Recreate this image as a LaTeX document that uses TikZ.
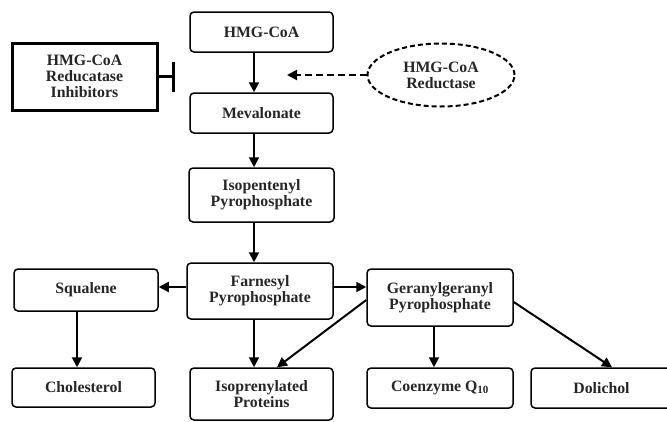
\documentclass[tikz,border=0pt]{standalone}
\usepackage{fontspec}
\setmainfont{Liberation Serif}
\usetikzlibrary{arrows.meta,shapes.geometric}
\begin{document}
\begin{tikzpicture}[x=1pt,y=-1pt,
  box/.style={draw, line width=1.5pt, rounded corners=4pt, inner sep=0pt, align=center,
    font=\fontsize{15.8}{16}\selectfont\bfseries, text=black!85},
  arr/.style={line width=2pt, -{Triangle[length=10pt,width=10pt]}},
]
\useasboundingbox (0,0) rectangle (667,421);
\node[box, minimum width=143, minimum height=40] (hmg) at (261.5,32) {HMG-CoA};
\node[box, minimum width=143, minimum height=40] (mev) at (261.5,113) {Mevalonate};
\node[box, minimum width=145, minimum height=54] (ipp) at (261.5,195) {Isopentenyl\\Pyrophosphate};
\node[box, minimum width=146, minimum height=56] (fpp) at (260,291) {Farnesyl\\Pyrophosphate};
\node[box, minimum width=144, minimum height=42] (sq) at (86,290) {Squalene};
\node[box, minimum width=143, minimum height=39] (chol) at (83.5,387.5) {Cholesterol};
\node[box, minimum width=143, minimum height=52] (ipr) at (261.5,394) {Isoprenylated\\Proteins};
\node[box, minimum width=146, minimum height=57] (gg) at (440,297.5) {Geranylgeranyl\\Pyrophosphate};
\node[box, minimum width=146, minimum height=40] (coq) at (440,388) {Coenzyme Q\textsubscript{10}};
\node[box, minimum width=141, minimum height=40] (dol) at (601.5,388) {Dolichol};
\node[box, rounded corners=0pt, line width=3pt, minimum width=145, minimum height=67] (inh) at (84.5,76.5) {HMG-CoA\\Reducatase\\Inhibitors};
\node[box, ellipse, line width=2pt, dash pattern=on 5pt off 3pt, minimum width=147, minimum height=63] (red) at (441,75) {HMG-CoA\\Reductase};
\coordinate (dtip) at (287,75);
\coordinate (bar) at (173,76);
% connectors
\draw[arr] ([xshift=-7.5pt]hmg.south) -- ([xshift=-7.5pt]mev.north);
\draw[arr] ([xshift=-7.5pt]mev.south) -- ([xshift=-7.5pt]ipp.north);
\draw[arr] ([xshift=-7.5pt]ipp.south) -- ([xshift=-6pt]fpp.north);
\draw[arr] ([xshift=-6pt]fpp.south) -- ([xshift=-7.5pt]ipr.north);
\draw[arr] (fpp.west |- 0,287) -- (sq.east |- 0,287);
\draw[arr] (fpp.east |- 0,287) -- (gg.west |- 0,287);
\draw[arr] (sq.south -| 77,0) -- (chol.north -| 77,0);
\draw[arr] (gg.west |- 0,300) -- (277,367.3);
\draw[arr] (gg.south -| 434,0) -- (coq.north -| 434,0);
\draw[arr] (gg.east |- 0,302) -- (612,367.3);
\draw[line width=2pt, dash pattern=on 7pt off 4pt, -{Triangle[length=10pt,width=10pt]}] (red.west) -- (dtip);
\draw[line width=3pt] (inh.east |- bar) -- (bar);
\draw[line width=3pt] (173,62) -- (173,92);
\end{tikzpicture}
\end{document}
